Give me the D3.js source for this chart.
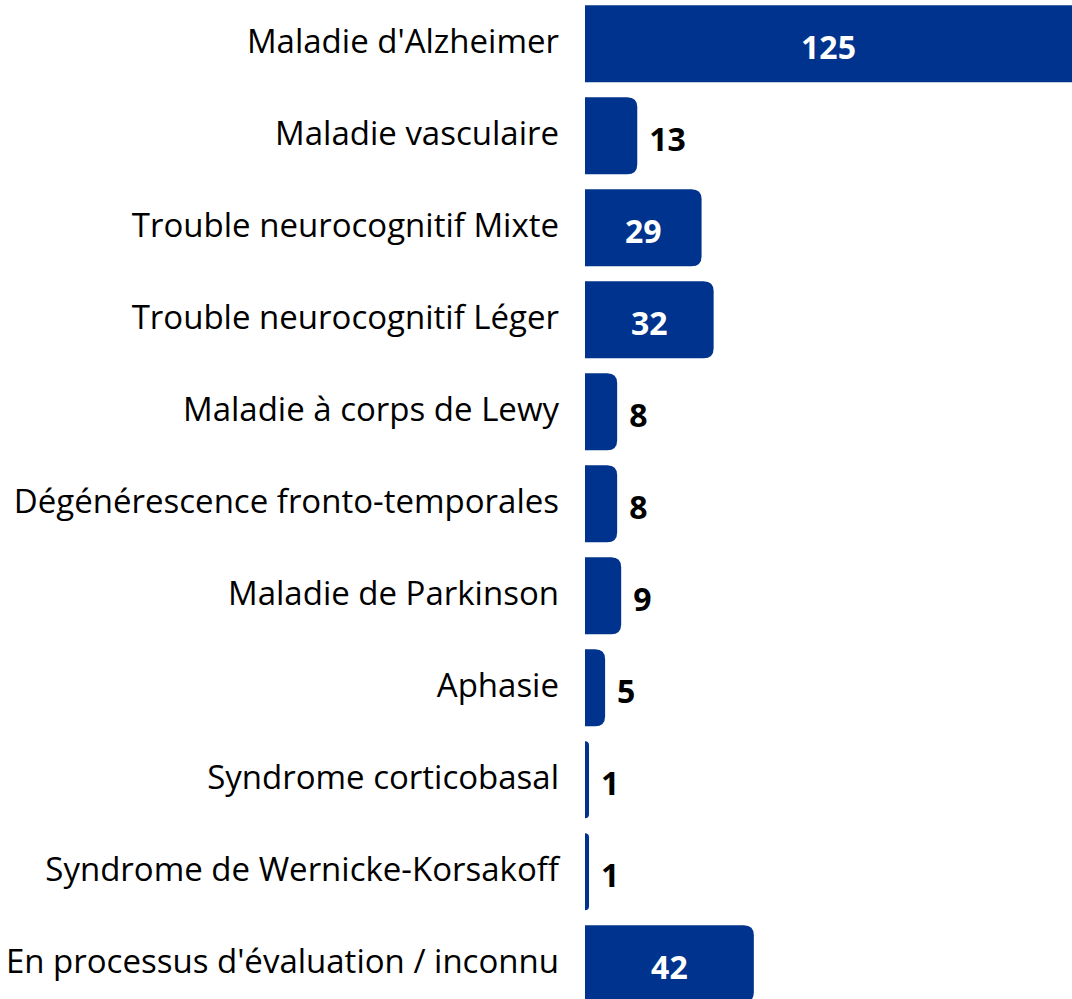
<!DOCTYPE html>
<html>
<head>
<meta charset="utf-8">
<script src="https://cdn.jsdelivr.net/npm/d3@7"></script>
<style>
  html, body { margin: 0; padding: 0; background: #ffffff; }
  svg { display: block; }
</style>
</head>
<body>
<script>
const categories = [
  "Maladie d'Alzheimer",
  "Maladie vasculaire",
  "Trouble neurocognitif Mixte",
  "Trouble neurocognitif Léger",
  "Maladie à corps de Lewy",
  "Dégénérescence fronto-temporales",
  "Maladie de Parkinson",
  "Aphasie",
  "Syndrome corticobasal",
  "Syndrome de Wernicke-Korsakoff",
  "En processus d'évaluation / inconnu"
];
const values = [125, 13, 29, 32, 8, 8, 9, 5, 1, 1, 42];

const W = 1072, H = 999;
const barColor = "#00338D";
const svg = d3.select("body").append("svg").attr("width", W).attr("height", H);

const x0 = 585;
const x = d3.scaleLinear().domain([0, 125]).range([x0, x0 + 125 * 4.02]);
const y = d3.scaleBand().domain(categories).range([5.3, 5.3 + 11 * 92 - 15])
  .paddingInner(0.163).paddingOuter(0);

const data = categories.map((c, i) => ({ c, v: values[i] }));

function barPath(d) {
  const x1 = x0, x2 = x(d.v), y1 = y(d.c), h = y.bandwidth(), y2 = y1 + h;
  const w = x2 - x1;
  const r = Math.min(10, w);
  return `M${x1},${y1} H${x2 - r} Q${x2},${y1} ${x2},${y1 + r} V${y2 - r} Q${x2},${y2} ${x2 - r},${y2} H${x1} Z`;
}

svg.append("g").selectAll("path").data(data).join("path")
  .attr("d", barPath)
  .attr("fill", barColor);

// category labels
svg.append("g").selectAll("text").data(data).join("text")
  .attr("x", 559)
  .attr("y", d => y(d.c) + y.bandwidth() / 2 + 9.5)
  .attr("text-anchor", "end")
  .attr("font-family", "'Open Sans', 'Noto Sans', sans-serif")
  .attr("font-size", 33)
  .attr("fill", "#000")
  .text(d => d.c);

// value labels
const fs = 32;
svg.append("g").selectAll("text").data(data).join("text")
  .attr("x", d => d.v >= 20 ? (x0 + Math.min(x(d.v), W)) / 2 : x(d.v) + 12)
  .attr("y", d => y(d.c) + y.bandwidth() / 2 + 4 + 0.357 * fs)
  .attr("text-anchor", d => d.v >= 20 ? "middle" : "start")
  .attr("font-family", "'Open Sans', 'Noto Sans', sans-serif")
  .attr("font-weight", "bold")
  .attr("font-size", fs)
  .attr("fill", d => d.v >= 20 ? "#ffffff" : "#000000")
  .text(d => d.v);
</script>
</body>
</html>
